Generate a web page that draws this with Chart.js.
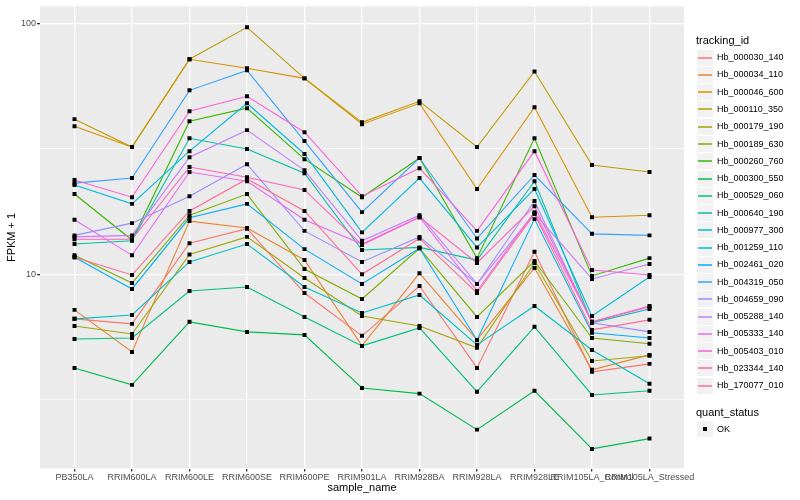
<!DOCTYPE html>
<html>
<head>
<meta charset="utf-8">
<script src="https://cdn.jsdelivr.net/npm/chart.js@4.4.0/dist/chart.umd.min.js"></script>
<style>
  body { margin: 0; background: #fff; font-family: "Liberation Sans", Arial, sans-serif; }
  #wrap { position: relative; width: 800px; height: 500px; overflow: hidden; }
  #chart { position: absolute; left: 0; top: 0; }
  .ttl { position: absolute; left: 696px; font-size: 11px; color: #000; line-height: 13px; }
  .key { position: absolute; left: 697px; width: 16px; height: 16px; background: #f2f2f2; }
  .key svg { position: absolute; left: 0; top: 0; }
  .key b { position: absolute; left: 6px; top: 6px; width: 4px; height: 4px; background: #000; }
  .lbl { position: absolute; left: 717px; font-size: 9px; color: #000; line-height: 11px; white-space: nowrap; }
</style>
</head>
<body>
<div id="wrap">
  <canvas id="chart" width="800" height="500"></canvas>
</div>
<script>
// x categories
const samples = ["PB350LA", "RRIM600LA", "RRIM600LE", "RRIM600SE", "RRIM600PE", "RRIM901LA",
  "RRIM928BA", "RRIM928LA", "RRIM928LE", "RRIM105LA_Control", "RRIM105LA_Stressed"];

// FPKM + 1 per gene, one value per sample
const hb000030_140 = [6.64, 6.34, 13.3, 15.2, 8.42, 5.68, 8.98, 4.23, 12.3, 4.08, 4.39];
const hb000034_110 = [7.21, 4.90, 16.3, 15.3, 11.4, 5.18, 10.1, 5.47, 10.6, 4.16, 4.77];
const hb000046_600 = [39.0, 32.2, 72.1, 66.4, 60.5, 39.7, 48.1, 21.9, 46.4, 16.9, 17.2];
const hb000110_350 = [41.6, 32.2, 72.1, 96.7, 60.5, 40.4, 49.0, 32.2, 64.5, 27.3, 25.6];
const hb000179_190 = [6.22, 5.78, 12.0, 14.1, 9.67, 6.82, 6.22, 5.09, 11.1, 4.51, 4.73];
const hb000189_630 = [11.9, 9.23, 17.2, 20.9, 10.5, 7.97, 12.7, 6.76, 11.3, 5.57, 5.28];
const hb000260_760 = [20.9, 13.7, 40.8, 46.0, 28.8, 20.3, 29.1, 11.6, 34.9, 9.85, 11.6];
const hb000300_550 = [4.23, 3.62, 6.46, 5.89, 5.73, 3.52, 3.34, 2.40, 3.43, 2.01, 2.21];
const hb000529_060 = [5.52, 5.57, 8.58, 8.90, 6.76, 5.18, 6.11, 3.40, 6.17, 3.30, 3.43];
const hb000640_190 = [13.2, 13.6, 34.9, 31.6, 25.3, 12.5, 12.8, 11.4, 23.5, 6.40, 7.27];
const hb000977_300 = [6.64, 6.88, 11.2, 13.2, 8.90, 7.01, 8.27, 5.23, 7.47, 4.99, 3.66];
const hb001259_110 = [22.7, 19.1, 31.0, 48.1, 30.2, 14.7, 24.2, 12.8, 21.9, 6.82, 9.76];
const hb002461_020 = [11.7, 8.74, 16.8, 19.1, 12.6, 9.15, 12.7, 5.47, 16.6, 5.84, 5.57];
const hb004319_050 = [23.1, 24.2, 54.2, 65.1, 34.0, 17.7, 29.1, 13.9, 24.9, 14.5, 14.3];
const hb004659_090 = [14.3, 16.0, 20.5, 27.5, 14.9, 11.2, 14.1, 9.15, 19.6, 6.40, 5.89];
const hb005288_140 = [14.1, 14.3, 29.3, 37.6, 26.0, 13.6, 17.2, 9.15, 17.5, 9.58, 11.0];
const hb005333_140 = [16.5, 11.9, 25.6, 23.5, 16.5, 13.2, 16.9, 8.58, 17.7, 6.46, 7.41];
const hb005403_010 = [23.8, 20.3, 44.7, 51.3, 36.9, 20.5, 26.5, 14.9, 31.0, 10.4, 9.94];
const hb023344_140 = [13.8, 13.8, 26.8, 24.4, 21.7, 13.1, 16.9, 11.1, 18.7, 6.46, 7.47];
const hb170077_010 = [11.7, 9.94, 17.9, 24.0, 17.9, 10.0, 13.9, 8.42, 17.4, 6.00, 6.58];

const trackingIds = ["Hb_000030_140", "Hb_000034_110", "Hb_000046_600", "Hb_000110_350", "Hb_000179_190",
  "Hb_000189_630", "Hb_000260_760", "Hb_000300_550", "Hb_000529_060", "Hb_000640_190", "Hb_000977_300",
  "Hb_001259_110", "Hb_002461_020", "Hb_004319_050", "Hb_004659_090", "Hb_005288_140", "Hb_005333_140",
  "Hb_005403_010", "Hb_023344_140", "Hb_170077_010"];
const seriesValues = [hb000030_140, hb000034_110, hb000046_600, hb000110_350, hb000179_190,
  hb000189_630, hb000260_760, hb000300_550, hb000529_060, hb000640_190, hb000977_300,
  hb001259_110, hb002461_020, hb004319_050, hb004659_090, hb005288_140, hb005333_140,
  hb005403_010, hb023344_140, hb170077_010];

// y-axis breaks (major labelled, minor unlabelled)
const yBreaks = [3.1623, 10, 31.623, 100];
const yLabels = ["", "10", "", "100"];

// ggplot default hue palette for 20 groups
const colors = ["#F8766D", "#EA8331", "#D89000", "#C09B00", "#A3A500", "#7CAE00", "#39B600", "#00BB4E",
  "#00BF7D", "#00C1A3", "#00BFC4", "#00BAE0", "#00B0F6", "#35A2FF", "#9590FF", "#C77CFF", "#E76BF3",
  "#FA62DB", "#FF62BC", "#FF6C91"];

const isMajor = v => v === 10 || v === 100;

const datasets = seriesValues.map((vals, s) => ({
  label: trackingIds[s],
  data: vals.map((v, i) => ({ x: i, y: v })),
  borderColor: colors[s],
  borderWidth: 1.1,
  pointRadius: 0,
  tension: 0,
  order: 21 - s
}));

// quant_status = OK points on top of all lines
datasets.push({
  label: "OK",
  data: seriesValues.flatMap(vals => vals.map((v, i) => ({ x: i, y: v }))),
  showLine: false,
  pointStyle: "rect",
  pointRadius: 2.8,
  pointBackgroundColor: "#000",
  pointBorderWidth: 0,
  order: 0
});

const panelBg = {
  id: "panelBg",
  beforeDraw(chart) {
    const { ctx, chartArea: a } = chart;
    ctx.save();
    ctx.fillStyle = "#fff";
    ctx.fillRect(0, 0, chart.width, chart.height);
    ctx.fillStyle = "#EBEBEB";
    ctx.fillRect(a.left, a.top, a.right - a.left, a.bottom - a.top);
    ctx.restore();
  }
};

Chart.defaults.font.family = '"Liberation Sans", Arial, sans-serif';

new Chart(document.getElementById("chart"), {
  type: "line",
  data: { datasets },
  plugins: [panelBg],
  options: {
    responsive: false,
    animation: false,
    events: [],
    layout: { padding: { left: 0, top: 5, right: 116, bottom: 0 } },
    plugins: { legend: { display: false }, tooltip: { enabled: false } },
    scales: {
      x: {
        type: "linear",
        min: -0.6,
        max: 10.6,
        afterBuildTicks: axis => { axis.ticks = samples.map((_, i) => ({ value: i })); },
        afterFit: axis => { axis.height = 31.5; },
        ticks: {
          autoSkip: false, maxRotation: 0, minRotation: 0,
          callback: v => samples[v],
          color: "#4D4D4D", font: { size: 9 }, padding: 1
        },
        grid: { color: "#fff", lineWidth: 1.3, drawTicks: true, tickLength: 3, tickColor: "#333" },
        border: { display: false },
        title: { display: true, text: "sample_name", color: "#000", font: { size: 11 }, padding: { top: 0, bottom: 5 } }
      },
      y: {
        type: "logarithmic",
        min: 1.679,
        max: 117.2,
        afterBuildTicks: axis => { axis.ticks = yBreaks.map(v => ({ value: v })); },
        afterFit: axis => { axis.width = 40; },
        ticks: {
          callback: (v, i) => yLabels[i],
          color: "#4D4D4D", font: { size: 9 }, padding: 1
        },
        grid: {
          color: "#fff",
          lineWidth: c => (c.tick && isMajor(c.tick.value)) ? 1.3 : 0.6,
          drawTicks: true,
          tickLength: 3,
          tickColor: c => (c.tick && isMajor(c.tick.value)) ? "#333" : "rgba(0,0,0,0)"
        },
        border: { display: false },
        title: { display: true, text: "FPKM + 1", color: "#000", font: { size: 11 }, padding: { top: 5, bottom: 0 } }
      }
    }
  }
});

// legend (ggplot style, to the right of the panel)
const wrap = document.getElementById("wrap");
function add(cls, top, html) {
  const d = document.createElement("div");
  d.className = cls;
  d.style.top = Math.round(top) + "px";
  d.innerHTML = html;
  wrap.appendChild(d);
  return d;
}
add("ttl", 34, "tracking_id");
trackingIds.forEach((id, s) => {
  const c = 57.7 + s * 17.26;
  add("key", c - 8, '<svg width="16" height="16"><line x1="1" y1="8" x2="15" y2="8" stroke="' +
    colors[s] + '" stroke-width="1.5"/></svg>');
  add("lbl", c - 5.5, id);
});
add("ttl", 405.5, "quant_status");
add("key", 421, "<b></b>");
add("lbl", 423.5, "OK");
</script>
</body>
</html>
